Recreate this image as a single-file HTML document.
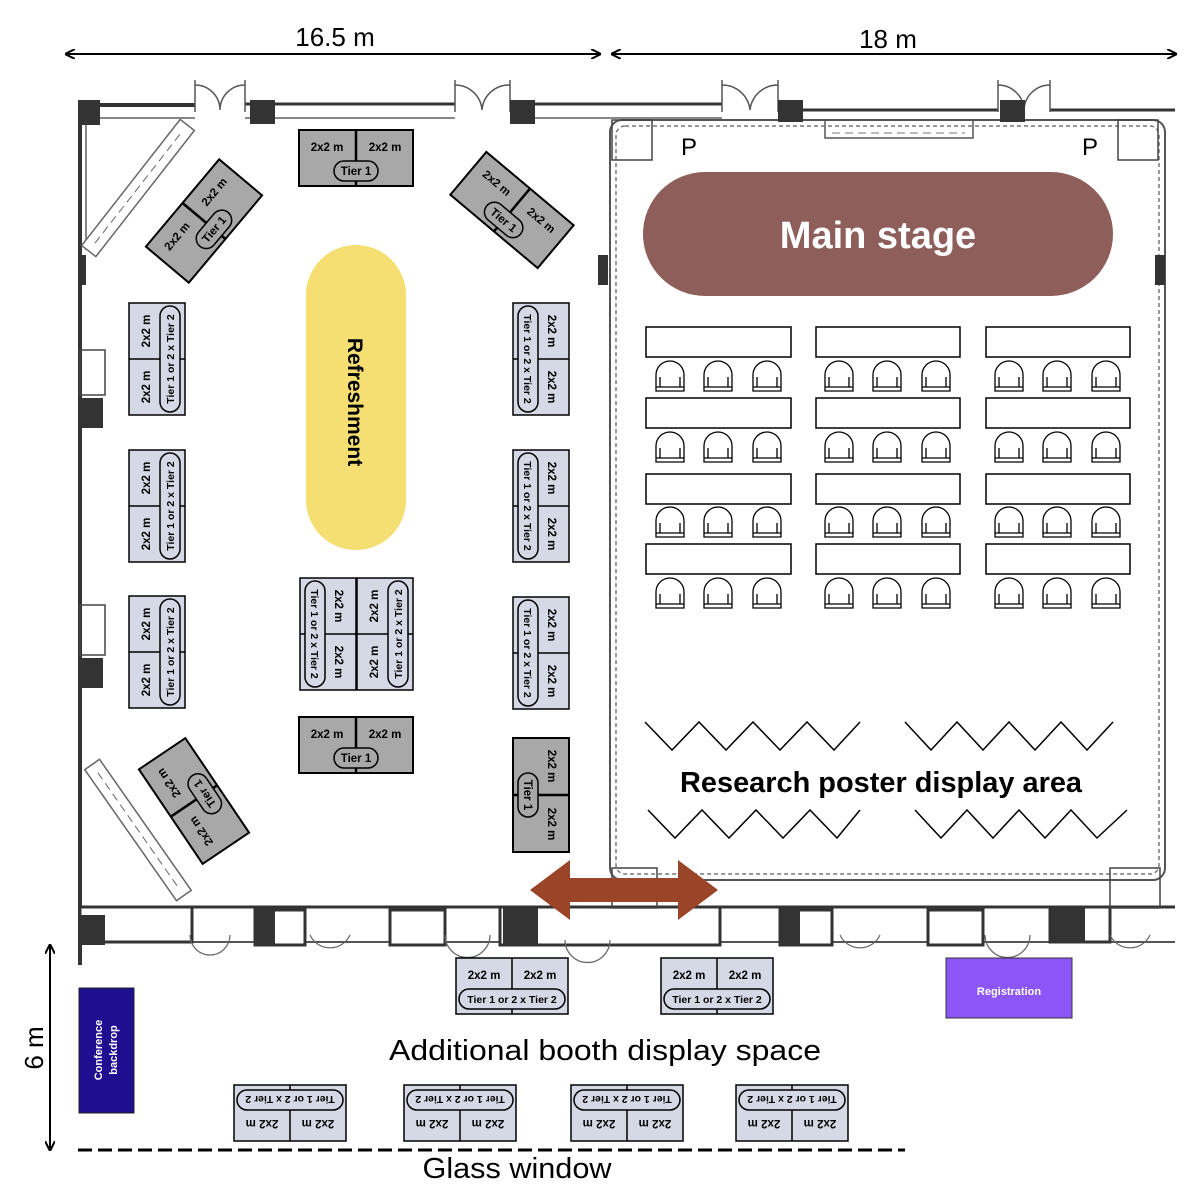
<!DOCTYPE html>
<html><head><meta charset="utf-8"><style>
html,body{margin:0;padding:0;background:#fff}
svg{display:block}
text{font-family:"Liberation Sans",sans-serif}
</style></head><body>
<svg width="1194" height="1188" viewBox="0 0 1194 1188" xmlns="http://www.w3.org/2000/svg">
<defs>
<marker id="ah" markerWidth="10" markerHeight="10" refX="9" refY="5" orient="auto-start-reverse" markerUnits="userSpaceOnUse"><path d="M0,0 L10,5 L0,10" fill="none" stroke="#000" stroke-width="2"/></marker>
<g id="bT1">
<rect x="-57" y="-28" width="114" height="56" fill="#a8a8a8" stroke="#000" stroke-width="2"/>
<line x1="0" y1="-28" x2="0" y2="28" stroke="#000" stroke-width="2.5"/>
<text x="-29" y="-7" font-size="11.5" font-weight="bold" text-anchor="middle">2x2 m</text>
<text x="29" y="-7" font-size="11.5" font-weight="bold" text-anchor="middle">2x2 m</text>
<rect x="-22" y="3" width="44" height="20" rx="10" fill="#a8a8a8" stroke="#000" stroke-width="1.5"/>
<text x="0" y="17" font-size="11.5" font-weight="bold" text-anchor="middle">Tier 1</text>
</g>
<g id="bT2">
<rect x="-56" y="-28" width="112" height="56" fill="#d5d9e6" stroke="#000" stroke-width="1.5"/>
<line x1="0" y1="-28" x2="0" y2="28" stroke="#000" stroke-width="1.5"/>
<text x="-28" y="-7" font-size="11.5" font-weight="bold" text-anchor="middle">2x2 m</text>
<text x="28" y="-7" font-size="11.5" font-weight="bold" text-anchor="middle">2x2 m</text>
<rect x="-53" y="3" width="106" height="20" rx="10" fill="#d5d9e6" stroke="#000" stroke-width="1.5"/>
<text x="0" y="17" font-size="10.5" font-weight="bold" text-anchor="middle">Tier 1 or 2 x Tier 2</text>
</g>
<g id="chair" fill="#fff" stroke="#000" stroke-width="1.3">
<path d="M-14,14 L-14,-2 A14,14 0 0 1 14,-2 L14,14 Z"/>
<path d="M-10,10 L-10,0 M10,10 L10,0 M-14,10 L14,10"/>
</g>
</defs>

<line x1="66" y1="54" x2="600" y2="54" stroke="#000" stroke-width="2" marker-start="url(#ah)" marker-end="url(#ah)"/>
<text x="335" y="46" font-size="26" text-anchor="middle">16.5 m</text>
<line x1="612" y1="54" x2="1176" y2="54" stroke="#000" stroke-width="2" marker-start="url(#ah)" marker-end="url(#ah)"/>
<text x="888" y="48" font-size="26" text-anchor="middle">18 m</text>
<line x1="50" y1="945" x2="50" y2="1150" stroke="#000" stroke-width="2" marker-start="url(#ah)" marker-end="url(#ah)"/>
<text transform="translate(43,1048) rotate(-90)" font-size="26" text-anchor="middle">6 m</text>

<g stroke="#333" fill="none">
<line x1="80" y1="105" x2="195" y2="105" stroke-width="4"/>
<line x1="80" y1="118" x2="195" y2="118" stroke-width="2" stroke="#888"/>
<line x1="245" y1="104" x2="455" y2="104" stroke-width="3"/>
<line x1="245" y1="118" x2="455" y2="118" stroke-width="2" stroke="#888"/>
<line x1="510" y1="104" x2="722" y2="104" stroke-width="3"/>
<line x1="510" y1="118" x2="722" y2="118" stroke-width="2" stroke="#888"/>
<line x1="778" y1="110" x2="998" y2="110" stroke-width="3"/>
<line x1="1050" y1="110" x2="1175" y2="110" stroke-width="3"/>
<line x1="80" y1="100" x2="80" y2="965" stroke-width="4"/>
<line x1="86" y1="118" x2="86" y2="250" stroke-width="2" stroke="#888"/>
<path d="M195,80 L195,112 M245,80 L245,112 M195,85 A25,25 0 0 1 220,110 M245,85 A25,25 0 0 0 220,110" stroke-width="1.5" stroke="#555"/>
<path d="M455,80 L455,112 M510,80 L510,112 M455,85 A27,27 0 0 1 482,110 M510,85 A27,27 0 0 0 482,110" stroke-width="1.5" stroke="#555"/>
<path d="M722,80 L722,112 M778,80 L778,112 M722,85 A28,28 0 0 1 750,110 M778,85 A28,28 0 0 0 750,110" stroke-width="1.5" stroke="#555"/>
<path d="M998,80 L998,112 M1050,80 L1050,112 M998,85 A26,26 0 0 1 1024,110 M1050,85 A26,26 0 0 0 1024,110" stroke-width="1.5" stroke="#555"/>
<g transform="translate(138,188) rotate(-52)"><rect x="-80" y="-9" width="160" height="18" stroke-width="1.5" stroke="#666" fill="#fff"/><line x1="-70" y1="0" x2="70" y2="0" stroke-dasharray="8,5" stroke="#666"/></g>
<g transform="translate(138,830) rotate(55)"><rect x="-80" y="-9" width="160" height="18" stroke-width="1.5" stroke="#666" fill="#fff"/><line x1="-70" y1="0" x2="70" y2="0" stroke-dasharray="8,5" stroke="#666"/></g>
<rect x="825" y="120" width="148" height="18" stroke="#555" stroke-width="1.5"/>
<line x1="832" y1="133" x2="965" y2="133" stroke-dasharray="8,5" stroke="#777"/>
<line x1="80" y1="907" x2="1175" y2="907" stroke-width="3"/>
<line x1="80" y1="942" x2="1175" y2="942" stroke-width="2" stroke="#555"/>
<rect x="80" y="907" width="112" height="35" stroke-width="3" fill="#fff"/>
<rect x="255" y="910" width="50" height="35" stroke-width="3" fill="#fff"/>
<rect x="390" y="910" width="55" height="35" stroke-width="3" fill="#fff"/>
<rect x="500" y="907" width="220" height="38" stroke-width="3" fill="#fff"/>
<rect x="780" y="910" width="52" height="35" stroke-width="3" fill="#fff"/>
<rect x="928" y="910" width="55" height="35" stroke-width="3" fill="#fff"/>
<rect x="1050" y="907" width="60" height="35" stroke-width="3" fill="#fff"/>
<rect x="610" y="120" width="555" height="760" rx="12" stroke="#555" stroke-width="2"/>
<rect x="616" y="126" width="543" height="748" rx="9" stroke="#777" stroke-width="1.5" stroke-dasharray="4,3"/>
<path d="M190,935 A20,20 0 0 0 230,935 M310,935 A22,22 0 0 0 350,935 M445,935 A22,22 0 0 0 490,935 M840,935 A22,22 0 0 0 880,935 M985,935 A22,22 0 0 0 1030,935 M1110,935 A22,22 0 0 0 1150,935 M565,940 A22,22 0 0 0 610,940" stroke="#666" stroke-width="1.2"/>
</g>
<g fill="#333">
<rect x="78" y="100" width="22" height="25"/><rect x="250" y="100" width="25" height="24"/><rect x="510" y="100" width="25" height="24"/>
<rect x="778" y="100" width="25" height="22"/><rect x="1000" y="100" width="25" height="22"/>
<rect x="78" y="398" width="25" height="30"/><rect x="78" y="658" width="25" height="30"/>
<rect x="80" y="915" width="25" height="30"/><rect x="255" y="910" width="20" height="35"/>
<rect x="503" y="907" width="35" height="38"/><rect x="780" y="910" width="20" height="35"/>
<rect x="1050" y="907" width="35" height="35"/>
<rect x="78" y="255" width="8" height="30"/><rect x="598" y="255" width="10" height="30"/><rect x="1155" y="255" width="10" height="30"/>
</g>
<g fill="none" stroke="#444" stroke-width="1.5">
<rect x="80" y="350" width="25" height="45"/><rect x="80" y="605" width="25" height="50"/>
<rect x="612" y="120" width="40" height="40"/><rect x="1118" y="120" width="40" height="40"/>
<rect x="612" y="868" width="45" height="40"/><rect x="1110" y="868" width="50" height="40"/>
</g>
<text x="681" y="155" font-size="24">P</text>
<text x="1082" y="155" font-size="24">P</text>

<rect x="643" y="172" width="470" height="124" rx="62" fill="#8e5e5b"/>
<text x="878" y="248" font-size="38" font-weight="bold" fill="#fff" text-anchor="middle">Main stage</text>

<rect x="306" y="245" width="100" height="305" rx="50" fill="#f5df72"/>
<text transform="translate(348,402) rotate(90)" font-size="21" font-weight="bold" text-anchor="middle">Refreshment</text>

<g fill="#fff" stroke="#000" stroke-width="1.5">
<rect x="646" y="327" width="145" height="30"/><rect x="816" y="327" width="144" height="30"/><rect x="986" y="327" width="144" height="30"/>
<rect x="646" y="398" width="145" height="30"/><rect x="816" y="398" width="144" height="30"/><rect x="986" y="398" width="144" height="30"/>
<rect x="646" y="474" width="145" height="30"/><rect x="816" y="474" width="144" height="30"/><rect x="986" y="474" width="144" height="30"/>
<rect x="646" y="544" width="145" height="30"/><rect x="816" y="544" width="144" height="30"/><rect x="986" y="544" width="144" height="30"/>
</g>
<g>
<use href="#chair" x="670" y="377"/><use href="#chair" x="718" y="377"/><use href="#chair" x="767" y="377"/>
<use href="#chair" x="839" y="377"/><use href="#chair" x="887" y="377"/><use href="#chair" x="936" y="377"/>
<use href="#chair" x="1009" y="377"/><use href="#chair" x="1057" y="377"/><use href="#chair" x="1106" y="377"/>
<use href="#chair" x="670" y="448"/><use href="#chair" x="718" y="448"/><use href="#chair" x="767" y="448"/>
<use href="#chair" x="839" y="448"/><use href="#chair" x="887" y="448"/><use href="#chair" x="936" y="448"/>
<use href="#chair" x="1009" y="448"/><use href="#chair" x="1057" y="448"/><use href="#chair" x="1106" y="448"/>
<use href="#chair" x="670" y="523"/><use href="#chair" x="718" y="523"/><use href="#chair" x="767" y="523"/>
<use href="#chair" x="839" y="523"/><use href="#chair" x="887" y="523"/><use href="#chair" x="936" y="523"/>
<use href="#chair" x="1009" y="523"/><use href="#chair" x="1057" y="523"/><use href="#chair" x="1106" y="523"/>
<use href="#chair" x="670" y="594"/><use href="#chair" x="718" y="594"/><use href="#chair" x="767" y="594"/>
<use href="#chair" x="839" y="594"/><use href="#chair" x="887" y="594"/><use href="#chair" x="936" y="594"/>
<use href="#chair" x="1009" y="594"/><use href="#chair" x="1057" y="594"/><use href="#chair" x="1106" y="594"/>
</g>

<g fill="none" stroke="#000" stroke-width="1.5">
<polyline points="645,722 672,750 699,722 726,750 753,722 780,750 807,722 834,750 860,722"/>
<polyline points="905,722 931,750 957,722 983,750 1009,722 1035,750 1061,722 1087,750 1113,722"/>
<polyline points="648,810 675,838 702,810 729,838 756,810 783,838 810,810 837,838 860,810"/>
<polyline points="915,810 941,838 967,810 993,838 1019,810 1045,838 1071,810 1097,838 1127,810"/>
</g>
<text x="881" y="792" font-size="29" font-weight="bold" text-anchor="middle" textLength="402" lengthAdjust="spacingAndGlyphs">Research poster display area</text>

<use href="#bT1" transform="translate(356,158)"/>
<use href="#bT1" transform="translate(356,745)"/>
<use href="#bT1" transform="translate(204,221) rotate(-50)"/>
<use href="#bT1" transform="translate(512,210) rotate(40)"/>
<use href="#bT1" transform="translate(194,801) rotate(236)"/>
<use href="#bT1" transform="translate(541,795) rotate(90)"/>
<use href="#bT2" transform="translate(157,359) rotate(-90)"/>
<use href="#bT2" transform="translate(157,506) rotate(-90)"/>
<use href="#bT2" transform="translate(157,652) rotate(-90)"/>
<use href="#bT2" transform="translate(541,359) rotate(90)"/>
<use href="#bT2" transform="translate(541,506) rotate(90)"/>
<use href="#bT2" transform="translate(541,653) rotate(90)"/>
<use href="#bT2" transform="translate(328,634) rotate(90)"/>
<use href="#bT2" transform="translate(385,634) rotate(-90)"/>
<use href="#bT2" transform="translate(512,986)"/>
<use href="#bT2" transform="translate(717,986)"/>
<use href="#bT2" transform="translate(290,1113) rotate(180)"/>
<use href="#bT2" transform="translate(460,1113) rotate(180)"/>
<use href="#bT2" transform="translate(627,1113) rotate(180)"/>
<use href="#bT2" transform="translate(792,1113) rotate(180)"/>

<polygon points="530,890 570,860 570,878 678,878 678,860 718,890 678,920 678,902 570,902 570,920" fill="#9a4528"/>

<rect x="946" y="958" width="126" height="60" fill="#8b55f7" stroke="#333" stroke-width="1"/>
<text x="1009" y="995" font-size="11" font-weight="bold" fill="#fff" text-anchor="middle">Registration</text>
<rect x="79" y="988" width="55" height="125" fill="#1f0e8f" stroke="#222"/>
<text transform="translate(102,1050) rotate(-90)" font-size="11" font-weight="bold" fill="#fff" text-anchor="middle">Conference</text>
<text transform="translate(117,1050) rotate(-90)" font-size="11" font-weight="bold" fill="#fff" text-anchor="middle">backdrop</text>

<text x="605" y="1060" font-size="29" text-anchor="middle" textLength="432" lengthAdjust="spacingAndGlyphs">Additional booth display space</text>
<line x1="78" y1="1150" x2="905" y2="1150" stroke="#000" stroke-width="3" stroke-dasharray="14,6"/>
<text x="517" y="1178" font-size="29" text-anchor="middle" textLength="189" lengthAdjust="spacingAndGlyphs">Glass window</text>
</svg>
</body></html>
